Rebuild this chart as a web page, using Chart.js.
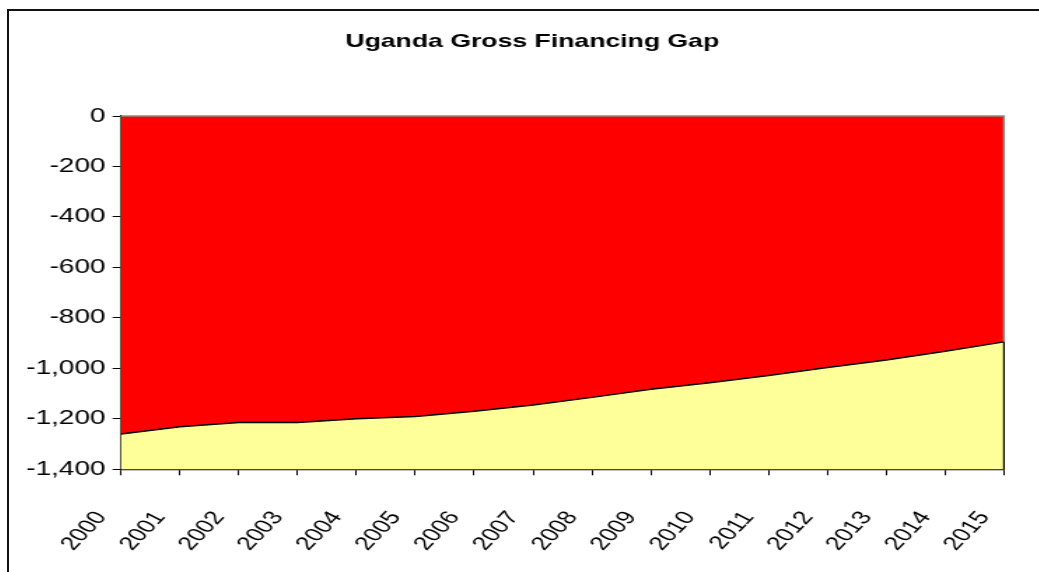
<!DOCTYPE html>
<html>
<head>
<meta charset="utf-8">
<title>Uganda Gross Financing Gap</title>
<script src="https://cdn.jsdelivr.net/npm/chart.js@4.4.1/dist/chart.umd.min.js"></script>
<style>
  html, body { margin: 0; padding: 0; background: #fff; overflow: hidden; }
  body { width: 1039px; height: 572px; position: relative; }
  #frame {
    position: absolute; left: 7px; top: 9px; width: 1100px; height: 700px;
    border-left: 2px solid #111; border-top: 2px solid #111;
  }
  /* chart is laid out narrow and widened, like the old spreadsheet export */
  #wrap {
    position: absolute; left: 8px; top: 0; width: 749px; height: 572px;
    transform: scaleX(1.4); transform-origin: 0 0;
  }
</style>
</head>
<body>
<div id="frame"></div>
<div id="wrap"><canvas id="gapChart"></canvas></div>
<script>
const years = ['2000', '2001', '2002', '2003', '2004', '2005', '2006', '2007',
               '2008', '2009', '2010', '2011', '2012', '2013', '2014', '2015'];
const grossGap = [-1260, -1231, -1215, -1215, -1200, -1191, -1170, -1145,
                  -1115, -1083, -1057, -1028, -997, -967, -932, -895];
const yMin = -1400;
const yMax = 0;
const yStep = 200;

const FONT = 'Liberation Sans, Arial, sans-serif';

// yellow plot background plus the grey/black plot edges
const plotFrame = {
    id: 'plotFrame',
    beforeDatasetsDraw(chart) {
        const { ctx, chartArea: a } = chart;
        ctx.save();
        ctx.fillStyle = '#FFFF99';
        ctx.fillRect(a.left, a.top, a.right - a.left, a.bottom - a.top);
        ctx.restore();
    },
    afterDatasetsDraw(chart) {
        const { ctx, chartArea: a, scales } = chart;
        const lastY = scales.y.getPixelForValue(grossGap[grossGap.length - 1]);
        ctx.save();
        ctx.strokeStyle = '#8c8c8c';
        ctx.lineWidth = 1.5;
        ctx.beginPath();
        ctx.moveTo(a.left, a.top);
        ctx.lineTo(a.right, a.top);
        ctx.lineTo(a.right, lastY);
        ctx.stroke();
        ctx.strokeStyle = '#000';
        ctx.lineWidth = 1.2;
        ctx.beginPath();
        ctx.moveTo(a.right, lastY);
        ctx.lineTo(a.right, a.bottom);
        ctx.stroke();
        ctx.restore();
    }
};

new Chart(document.getElementById('gapChart'), {
    type: 'line',
    data: {
        labels: years,
        datasets: [{
            label: 'Gross financing gap',
            data: grossGap,
            borderColor: '#000',
            borderWidth: 1.5,
            backgroundColor: '#FF0000',
            fill: 'end',
            pointRadius: 0,
            tension: 0
        }]
    },
    options: {
        responsive: true,
        maintainAspectRatio: false,
        animation: false,
        devicePixelRatio: 1,
        layout: { padding: 0 },
        plugins: {
            legend: { display: false },
            tooltip: { enabled: false },
            title: {
                display: true,
                text: 'Uganda Gross Financing Gap',
                color: '#000',
                font: { family: FONT, size: 19, weight: 'bold', lineHeight: 1.2 },
                padding: { top: 30, bottom: 63.2 }
            }
        },
        scales: {
            x: {
                offset: false,
                grid: { drawOnChartArea: false, color: '#000', tickLength: 6, offset: false },
                border: { color: '#000', width: 1.2 },
                ticks: {
                    color: '#000',
                    font: { family: FONT, size: 19 },
                    autoSkip: false,
                    minRotation: 54.5,
                    maxRotation: 54.5,
                    labelOffset: -14,
                    padding: 32
                },
                afterFit(scale) {
                    // fixed band under the plot, empty strip on the right
                    scale.height = 102.7;
                    scale.paddingLeft = 0;
                    scale.paddingRight = 37.6;
                }
            },
            y: {
                min: yMin,
                max: yMax,
                grid: { drawOnChartArea: false, color: '#000', tickLength: 6 },
                border: { color: '#000', width: 1.2 },
                ticks: {
                    stepSize: yStep,
                    color: '#000',
                    font: { family: FONT, size: 20 },
                    padding: 5
                },
                afterFit(scale) { scale.width = 80.7; }
            }
        }
    },
    plugins: [plotFrame]
});
</script>
</body>
</html>
